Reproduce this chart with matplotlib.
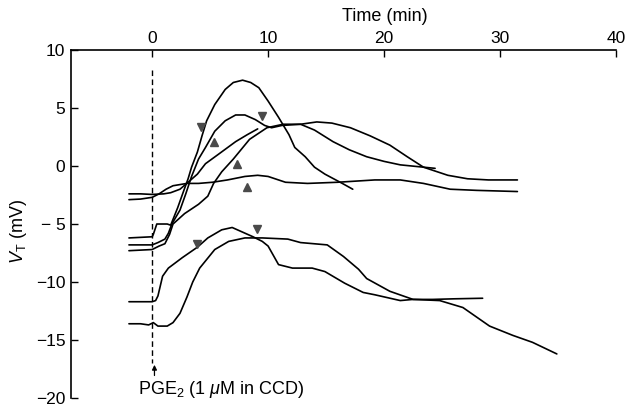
import matplotlib.pyplot as plt

plt.rcParams['font.family'] = ['Liberation Sans', 'DejaVu Sans']
plt.rcParams['mathtext.fontset'] = 'custom'
plt.rcParams['mathtext.rm'] = 'Liberation Sans'
plt.rcParams['mathtext.it'] = 'Liberation Sans:italic'

# transepithelial voltage V_T (mV) against time (min), one trace per tubule
a_t = [-2.0, 0.0, 0.1, 0.4, 1.3, 1.6, 2.2, 2.7, 3.1, 3.4, 3.9, 4.3, 4.7, 5.4, 6.3,
       7.0, 7.8, 8.5, 9.2, 10.0, 10.9, 11.8, 12.3, 13.2, 14.0, 14.9, 16.4, 17.3]
a_v = [-6.2, -6.1, -5.9, -5.0, -5.0, -5.1, -3.6, -2.2, -1.1, -0.1, 1.2, 2.6, 3.9, 5.3, 6.6,
       7.2, 7.4, 7.2, 6.75, 5.6, 4.2, 2.7, 1.6, 0.8, -0.1, -0.7, -1.5, -2.0]

b_t = [-2.0, 0.0, 0.5, 1.1, 1.4, 1.7, 2.4, 2.9, 3.4, 4.0, 4.6, 5.4, 6.3, 7.2, 8.0,
       8.9, 9.7, 10.3, 11.2, 12.8, 14.0, 15.6, 17.0, 18.5, 20.0, 21.4, 24.4]
b_v = [-6.8, -6.8, -6.6, -6.3, -5.8, -5.0, -3.8, -2.4, -0.9, 0.6, 1.6, 3.0, 3.9, 4.4, 4.4,
       4.0, 3.5, 3.3, 3.5, 3.6, 3.1, 2.1, 1.4, 0.8, 0.4, 0.1, -0.2]

c_t = [-2.0, -1.0, 0.0, 1.0, 1.6, 2.4, 3.1, 3.9, 4.6, 5.7, 7.2, 8.2, 9.1]
c_v = [-2.4, -2.4, -2.45, -2.4, -2.3, -2.0, -1.4, -0.7, 0.2, 1.0, 2.1, 2.7, 3.2]

d_t = [-2.0, 0.0, 0.6, 1.1, 1.5, 1.8, 2.8, 4.0, 4.8, 5.3, 6.0, 7.0, 8.4, 9.9, 11.3,
       12.8, 14.2, 15.5, 17.1, 18.8, 20.5, 22.0, 23.4, 25.5, 27.2, 29.0, 31.5]
d_v = [-7.3, -7.2, -6.9, -6.7, -5.9, -5.0, -4.1, -3.3, -2.6, -1.5, -0.5, 0.6, 2.3, 3.3, 3.6,
       3.6, 3.8, 3.7, 3.3, 2.6, 1.8, 0.8, -0.1, -0.8, -1.1, -1.2, -1.2]

e_t = [-2.0, -1.0, 0.0, 0.6, 1.2, 1.8, 2.4, 3.0, 4.0, 5.2, 6.5, 8.0, 9.1, 10.0, 11.5,
       13.4, 16.0, 19.2, 21.4, 23.4, 25.7, 28.0, 31.5]
e_v = [-2.9, -2.85, -2.7, -2.4, -2.0, -1.7, -1.6, -1.5, -1.5, -1.4, -1.2, -0.9, -0.8, -0.9, -1.4,
       -1.5, -1.4, -1.2, -1.2, -1.5, -2.0, -2.1, -2.2]

f_t = [-2.0, 0.0, 0.3, 0.5, 0.9, 1.4, 2.6, 3.9, 4.8, 6.0, 6.9, 7.8, 8.7, 9.5, 10.0,
       10.9, 12.1, 13.8, 14.9, 16.6, 18.2, 19.2, 21.4, 22.5, 24.2, 26.0, 28.5]
f_v = [-11.7, -11.7, -11.6, -11.2, -9.5, -8.8, -7.9, -7.0, -6.2, -5.5, -5.3, -5.7, -6.1, -6.5, -6.9,
       -8.5, -8.8, -8.8, -9.1, -10.1, -10.9, -11.1, -11.6, -11.5, -11.5, -11.45, -11.4]

g_t = [-2.0, -1.0, -0.3, 0.1, 0.5, 1.3, 1.8, 2.4, 3.0, 3.5, 4.1, 5.4, 6.6, 8.0, 9.5,
       11.7, 12.8, 15.1, 16.5, 17.8, 18.5, 20.5, 22.5, 24.8, 26.8, 29.1, 31.1, 32.8, 34.9]
g_v = [-13.6, -13.6, -13.7, -13.5, -13.8, -13.8, -13.5, -12.7, -11.3, -10.0, -8.8, -7.2, -6.5, -6.2, -6.2,
       -6.3, -6.6, -6.8, -7.8, -8.9, -9.7, -10.8, -11.5, -11.6, -12.2, -13.8, -14.6, -15.2, -16.2]

traces = [(a_t, a_v), (b_t, b_v), (c_t, c_v), (d_t, d_v), (e_t, e_v), (f_t, f_v), (g_t, g_v)]

# arrowheads marking the peaks
down_t = [4.2, 9.5, 3.9, 9.05]
down_v = [3.4, 4.3, -6.7, -5.4]
up_t = [5.35, 7.3, 8.2]
up_v = [2.1, 0.2, -1.8]

pge_time = 0.0

x_ticks = [0, 10, 20, 30, 40]
y_ticks = [10, 5, 0, -5, -10, -15, -20]
y_labels = ['10', '5', '0', '\u2212 5', '\u221210', '\u221215', '\u221220']

fig = plt.figure(figsize=(6.27, 4.07), dpi=100)
ax = fig.add_axes([0.1132, 0.0221, 0.8692, 0.855])

for t, v in traces:
    ax.plot(t, v, color='black', lw=1.2, solid_joinstyle='round', solid_capstyle='round')

ax.plot(down_t, down_v, linestyle='none', marker='v', ms=5.5, color='#4a4a4a')
ax.plot(up_t, up_v, linestyle='none', marker='^', ms=5.5, color='#4a4a4a')

# PGE2 added at time zero
ax.plot([pge_time, pge_time], [8.3, -17.0], color='black', lw=1.0, linestyle=(0, (4, 2.5)))
ax.annotate('', xy=(pge_time + 0.2, -16.9), xytext=(pge_time + 0.2, -18.3),
            arrowprops=dict(arrowstyle='-|>', color='black', lw=0.9, mutation_scale=7))
ax.text(-1.2, -19.3, r'PGE$_2$ (1 $\mu$M in CCD)', fontsize=13, ha='left', va='center')

ax.set_xlim(-7, 40)
ax.set_ylim(-20, 10)
ax.spines['right'].set_visible(False)
ax.spines['bottom'].set_visible(False)
ax.spines['top'].set_linewidth(1.2)
ax.spines['left'].set_linewidth(1.2)

ax.xaxis.tick_top()
ax.set_xticks(x_ticks)
ax.set_yticks(y_ticks)
ax.set_yticklabels(y_labels)
ax.tick_params(direction='in', length=5, width=1.0, labelsize=12.5)
ax.tick_params(axis='x', pad=3)
ax.tick_params(axis='y', pad=4)

ax.text(0.576, 1.097, 'Time (min)', transform=ax.transAxes, fontsize=13, ha='center', va='center')
ax.text(-0.097, 0.48, r'$V_{\rm T}$ (mV)', transform=ax.transAxes, fontsize=13,
        ha='center', va='center', rotation=90)

fig.savefig('out.png', dpi=100)
